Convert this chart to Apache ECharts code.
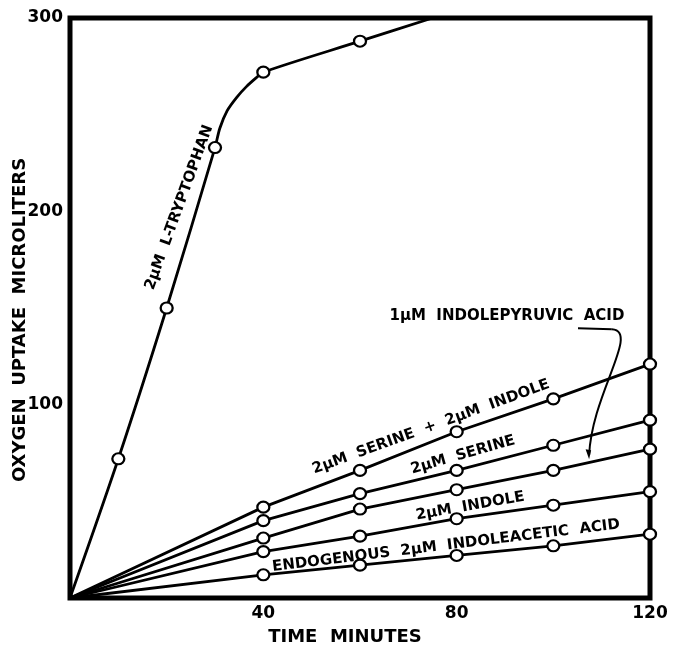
<!DOCTYPE html>
<html>
<head>
<meta charset="utf-8">
<script src="https://cdn.jsdelivr.net/npm/echarts@6/dist/echarts.min.js"></script>
<style>
  html, body { margin: 0; padding: 0; background: #fff; }
  #chart { width: 673px; height: 645px; }
</style>
</head>
<body>
<div id="chart"></div>
<script>
// time points (minutes); tryptophan includes points traced along the bend
const tryptophanTime = [0, 10, 20, 30, 31, 32.5, 34.5, 36.5, 38.5, 40, 60, 75]
const tryptophan = [0, 72, 150, 233, 243, 252, 259, 264.5, 269, 272, 288, 300]
const tryptophanMarked = [false, true, true, true, false, false, false, false, false, true, true, false]

const time = [0, 40, 60, 80, 100, 120]
const serineIndole = [0, 47, 66, 86, 103, 121]
const serine = [0, 40, 54, 66, 79, 92]
const indolepyruvic = [0, 31, 46, 56, 66, 77]
const indole = [0, 24, 32, 41, 48, 55]
const endogenous = [0, 12, 17, 22, 27, 33]

const xTicks = [40, 80, 120]
const yTicks = [100, 200, 300]

// curve labels: [text, x, y, rotation]
const labels = [
  ['2μM  L-TRYPTOPHAN', 22.6, 202, 70],
  ['2μM  SERINE  +  2μM  INDOLE', 74.7, 88.5, 20],
  ['2μM  SERINE', 81.3, 74, 16],
  ['1μM  INDOLEPYRUVIC  ACID', 90.4, 145.6, 0],
  ['2μM  INDOLE', 82.8, 47.5, 10],
  ['ENDOGENOUS  2μM  INDOLEACETIC  ACID', 77.8, 27, 7]
]

const font = 'DejaVu Sans'

function toData(xs, ys, marked) {
  return xs.map((x, i) => {
    const item = { value: [x, ys[i]] }
    const show = marked ? marked[i] : i > 0
    if (!show) item.symbol = 'none'
    return item
  })
}

function lineSeries(xs, ys, marked, extra) {
  return Object.assign({
    type: 'line',
    data: toData(xs, ys, marked),
    symbol: 'circle',
    symbolSize: [12, 11],
    showAllSymbol: true,
    lineStyle: { color: '#000', width: 2.8 },
    itemStyle: { color: '#fff', borderColor: '#000', borderWidth: 2.2 },
    emphasis: { disabled: true },
    animation: false,
    z: 3
  }, extra || {})
}

const chart = echarts.init(document.getElementById('chart'))

chart.setOption({
  backgroundColor: '#fff',
  grid: {
    left: 70,
    right: 23,
    top: 18,
    bottom: 47,
    containLabel: false,
    outerBoundsMode: 'none',
    show: true,
    borderColor: '#000',
    borderWidth: 5,
    backgroundColor: 'transparent'
  },
  xAxis: {
    type: 'value',
    min: 0,
    max: 120,
    interval: 40,
    name: 'TIME  MINUTES',
    nameLocation: 'middle',
    nameGap: 30,
    nameTextStyle: {
      fontFamily: font,
      fontWeight: 'bold',
      fontSize: 18,
      color: '#000',
      padding: [0, 30, 0, 0]
    },
    axisLine: { show: false },
    axisTick: { show: false },
    splitLine: { show: false },
    axisLabel: {
      margin: 7,
      fontFamily: font,
      fontWeight: 'bold',
      fontSize: 17,
      color: '#000',
      formatter: v => (xTicks.indexOf(v) >= 0 ? String(v) : '')
    }
  },
  yAxis: {
    type: 'value',
    min: 0,
    max: 300,
    interval: 100,
    name: 'OXYGEN  UPTAKE  MICROLITERS',
    nameLocation: 'middle',
    nameGap: 41,
    nameMoveOverlap: false,
    nameTextStyle: {
      fontFamily: font,
      fontWeight: 'bold',
      fontSize: 18,
      color: '#000',
      padding: [0, 24, 0, 0]
    },
    axisLine: { show: false },
    axisTick: { show: false },
    splitLine: { show: false },
    axisLabel: {
      margin: 7,
      fontFamily: font,
      fontWeight: 'bold',
      fontSize: 17,
      color: '#000',
      formatter: v => (yTicks.indexOf(v) >= 0 ? String(v) : '')
    }
  },
  series: [
    lineSeries(tryptophanTime, tryptophan, tryptophanMarked, { smooth: 0.3 }),
    lineSeries(time, serineIndole),
    lineSeries(time, serine),
    lineSeries(time, indolepyruvic),
    lineSeries(time, indole),
    lineSeries(time, endogenous)
  ]
})

// annotations placed in data coordinates
const px = (x, y) => chart.convertToPixel({ gridIndex: 0 }, [x, y])

const graphics = labels.map(([text, x, y, rot]) => {
  const p = px(x, y)
  return {
    type: 'text',
    x: p[0],
    y: p[1],
    rotation: rot * Math.PI / 180,
    z: 10,
    style: {
      text: text,
      font: 'bold 15px "' + font + '"',
      fill: '#000',
      align: 'center',
      verticalAlign: 'middle'
    }
  }
})

// arrow from "ACID" down to the indolepyruvic curve
const a = px(105.1, 139.5)
const b = px(112.1, 139.0)
const c1 = px(118.0, 138.0)
const c2 = px(108.0, 106.0)
const tip = px(107.4, 71.8)
graphics.push({
  type: 'polyline',
  z: 10,
  shape: { points: [a, b] },
  style: { stroke: '#000', lineWidth: 2, fill: null }
})
graphics.push({
  type: 'bezierCurve',
  z: 10,
  shape: {
    x1: b[0], y1: b[1],
    cpx1: c1[0], cpy1: c1[1],
    cpx2: c2[0], cpy2: c2[1],
    x2: tip[0], y2: tip[1] - 4
  },
  style: { stroke: '#000', lineWidth: 2, fill: null }
})
graphics.push({
  type: 'polygon',
  z: 10,
  shape: {
    points: [[tip[0], tip[1]], [tip[0] - 3.5, tip[1] - 10], [tip[0] + 2, tip[1] - 9]]
  },
  style: { fill: '#000' }
})

chart.setOption({ graphic: graphics })
</script>
</body>
</html>
